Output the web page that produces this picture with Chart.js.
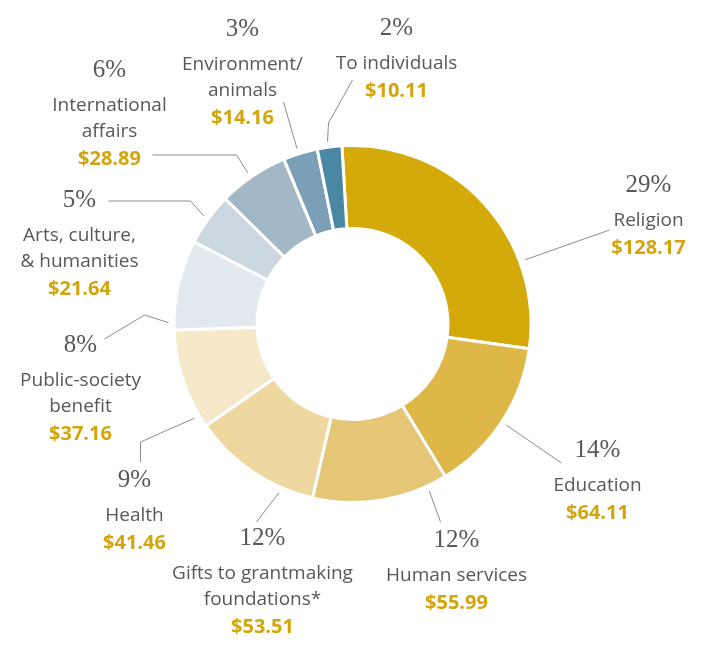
<!DOCTYPE html>
<html>
<head>
<meta charset="utf-8">
<script src="https://cdn.jsdelivr.net/npm/chart.js@4"></script>
<style>
  html, body { margin: 0; padding: 0; background: #fff; }
  #wrap { width: 708px; height: 655px; }
</style>
</head>
<body>
<div id="wrap"><canvas id="myChart" width="708" height="655"></canvas></div>
<script>
// categories, clockwise from the top
const categories = [
    'Religion',
    'Education',
    'Human services',
    ['Gifts to grantmaking', 'foundations*'],
    'Health',
    ['Public-society', 'benefit'],
    ['Arts, culture,', '& humanities'],
    ['International', 'affairs'],
    ['Environment/', 'animals'],
    'To individuals'
];

// billions of dollars
const amounts = [128.17, 64.11, 55.99, 53.51, 41.46, 37.16, 21.64, 28.89, 14.16, 10.11];

// percent labels as printed
const percents = [29, 14, 12, 12, 9, 8, 5, 6, 3, 2];

const colors = [
    '#d4aa0b', '#ddb748', '#e5c676', '#efd8a0', '#f6e9ca',
    '#e2e9ef', '#ccd8e0', '#a3b8c7', '#7b9fb6', '#4a87a3'
];

// label placement, px relative to the chart centre
// at = where along the slice the leader starts, path = rest of leader, lx/ly = centre of the % text
const labelLayout = [
    { at: 0.72, path: [[257, -94]], lx: 296, ly: -139 },
    { at: 0.5, path: [[209, 139]], lx: 245, ly: 126 },
    { at: 0.15, path: [[88, 198]], lx: 104, ly: 216 },
    { at: 0.25, path: [[-96, 198]], lx: -90, ly: 214 },
    { at: 0.12, path: [[-212, 118], [-212, 138]], lx: -218, ly: 156 },
    { at: 0.08, path: [[-208, -9], [-248, 15]], lx: -272, ly: 21 },
    { at: 0.5, path: [[-162, -123], [-244, -123]], lx: -273, ly: -124 },
    { at: 0.47, path: [[-116, -169], [-200, -169]], lx: -243, ly: -254 },
    { at: 0.45, path: [[-69, -222]], lx: -110, ly: -295 },
    { at: 0.45, path: [[-24, -201], [0, -244]], lx: 44, ly: -296 }
];

const labelPlugin = {
    id: 'outsideLabels',
    afterDraw(chart) {
        const ctx = chart.ctx;
        const meta = chart.getDatasetMeta(0);
        ctx.save();
        meta.data.forEach((arc, i) => {
            const lay = labelLayout[i];
            const cx = arc.x, cy = arc.y;
            const a = arc.startAngle + lay.at * (arc.endAngle - arc.startAngle);
            const r = arc.outerRadius + 5.5;

            // leader line
            ctx.strokeStyle = '#8c8c8c';
            ctx.lineWidth = 1;
            ctx.beginPath();
            ctx.moveTo(cx + Math.cos(a) * r, cy + Math.sin(a) * r);
            lay.path.forEach(p => ctx.lineTo(cx + p[0], cy + p[1]));
            ctx.stroke();

            const x = cx + lay.lx;
            let y = cy + lay.ly;
            ctx.textAlign = 'center';
            ctx.textBaseline = 'middle';

            ctx.fillStyle = '#58585a';
            ctx.font = '25px "Liberation Serif"';
            ctx.fillText(percents[i] + '%', x, y);

            const lines = [].concat(categories[i]);
            ctx.font = '19px "Open Sans"';
            y += 36;
            lines.forEach((t, k) => {
                ctx.fillText(t, x, y);
                if (k < lines.length - 1) y += 26;
            });

            ctx.fillStyle = '#d4a50a';
            ctx.font = 'bold 20px "Open Sans"';
            ctx.fillText('$' + amounts[i].toFixed(2), x, y + 27);
        });
        ctx.restore();
    }
};

const data = {
    labels: categories,
    datasets: [{
        data: amounts,
        backgroundColor: colors,
        borderColor: '#ffffff',
        borderWidth: 3
    }]
};

const config = {
    type: 'doughnut',
    data: data,
    options: {
        responsive: false,
        animation: false,
        devicePixelRatio: 1,
        rotation: -3.4,
        radius: 178.5,
        cutout: '53.5%',
        layout: { padding: { left: 0, right: 3, top: 0, bottom: 7 } },
        plugins: {
            legend: { display: false },
            tooltip: { enabled: false }
        }
    },
    plugins: [labelPlugin]
};

new Chart(document.getElementById('myChart'), config);
</script>
</body>
</html>
